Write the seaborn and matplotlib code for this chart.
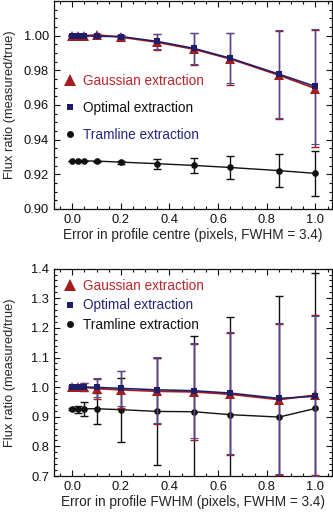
import numpy as np
import pandas as pd
import matplotlib
matplotlib.use("Agg")
import matplotlib.pyplot as plt
from matplotlib.lines import Line2D
from matplotlib.ticker import MultipleLocator, FixedLocator, FormatStrFormatter
import seaborn as sns

# ---------------- data ----------------
offset = [0.0, 0.025, 0.05, 0.1, 0.2, 0.35, 0.5, 0.65, 0.85, 1.0]

# top panel: error in profile centre
centre_gauss = [1.000, 1.000, 1.000, 1.0004, 0.9992, 0.9962, 0.9922, 0.9866, 0.9772, 0.9695]
centre_gauss_err = [0.0002, 0.0002, 0.0002, 0.0005, 0.001, 0.0045, 0.0092, 0.0148, 0.0255, 0.034]
centre_opt = [1.000, 1.000, 1.000, 0.9996, 0.9995, 0.9967, 0.9927, 0.9870, 0.9778, 0.9707]
centre_opt_err = [0.0002, 0.0002, 0.0002, 0.0005, 0.001, 0.0043, 0.0088, 0.0143, 0.0254, 0.033]
centre_tram = [0.9277, 0.9277, 0.9277, 0.9276, 0.9270, 0.9261, 0.9251, 0.9239, 0.9221, 0.9205]
centre_tram_err = [0.0002, 0.0002, 0.0002, 0.0003, 0.0008, 0.0029, 0.0045, 0.0067, 0.0095, 0.0128]

# bottom panel: error in profile FWHM
fwhm_gauss = [1.000, 1.000, 1.000, 0.995, 0.991, 0.986, 0.984, 0.976, 0.958, 0.973]
fwhm_gauss_err = [0.003, 0.006, 0.014, 0.034, 0.062, 0.112, 0.162, 0.206, 0.256, 0.27]
fwhm_opt = [1.000, 1.000, 1.000, 0.9995, 0.996, 0.991, 0.988, 0.980, 0.962, 0.969]
fwhm_opt_err = [0.003, 0.006, 0.013, 0.033, 0.060, 0.112, 0.160, 0.206, 0.255, 0.27]
fwhm_tram = [0.927, 0.926, 0.927, 0.927, 0.924, 0.918, 0.917, 0.907, 0.899, 0.928]
fwhm_tram_err = [0.004, 0.012, 0.024, 0.053, 0.108, 0.182, 0.254, 0.330, 0.407, 0.458]

methods = ["Gaussian extraction", "Optimal extraction", "Tramline extraction"]
xlabels = ["Error in profile centre (pixels, FWHM = 3.4)",
           "Error in profile FWHM (pixels, FWHM = 3.4)"]
ylabel = "Flux ratio (measured/true)"
top_yticks = [0.90, 0.92, 0.94, 0.96, 0.98, 1.00]
bottom_yticks = [0.7, 0.8, 0.9, 1.0, 1.1, 1.2, 1.3, 1.4]

# ---------------- style ----------------
sns.set_style("ticks")
plt.rcParams["font.family"] = ["Liberation Sans", "DejaVu Sans"]
plt.rcParams["xtick.direction"] = "in"
plt.rcParams["ytick.direction"] = "in"

RED = "#a31c20"
RED_TXT = "#b8262b"
NAVY = "#1e1e68"
NAVY_BAR = "#4a4a9c"
BLACK = "#111111"
FS = 9.8
TFS = 9.3

fig = plt.figure(figsize=(3.33, 5.12), dpi=100)
ax1 = fig.add_axes([0.162, 0.592, 0.835, 0.406])
ax2 = fig.add_axes([0.162, 0.0703, 0.835, 0.405])


def make_df(g, o, t):
    return pd.DataFrame({
        "offset": offset * 3,
        "ratio": list(g) + list(o) + list(t),
        "method": [methods[0]] * len(offset) + [methods[1]] * len(offset) + [methods[2]] * len(offset),
    })


def draw(ax, g, ge, o, oe, t, te, ms_tri):
    df = make_df(g, o, t)
    sub = lambda m: df[df["method"] == m]
    # tramline
    ax.errorbar(offset, t, yerr=te, fmt="none", ecolor=BLACK, elinewidth=1.0,
                capsize=3, capthick=1.0, zorder=2)
    sns.lineplot(data=sub(methods[2]), x="offset", y="ratio", ax=ax, color=BLACK,
                 marker="o", markersize=4.8, markeredgewidth=0, linewidth=1.0,
                 legend=False, zorder=3)
    # gaussian
    ax.errorbar(offset, g, yerr=ge, fmt="none", ecolor=RED, elinewidth=1.0,
                capsize=3, capthick=1.0, zorder=4)
    # optimal error bars
    ax.errorbar(offset, o, yerr=oe, fmt="none", ecolor=NAVY_BAR, elinewidth=1.0,
                capsize=3, capthick=0.8, zorder=5)
    sns.lineplot(data=sub(methods[0]), x="offset", y="ratio", ax=ax, color=RED,
                 marker="^", markersize=ms_tri, markeredgewidth=0, linewidth=1.3,
                 legend=False, zorder=6)
    sns.lineplot(data=sub(methods[1]), x="offset", y="ratio", ax=ax, color=NAVY,
                 marker="s", markersize=4.2, markeredgewidth=0, linewidth=1.1,
                 legend=False, zorder=7)


draw(ax1, centre_gauss, centre_gauss_err, centre_opt, centre_opt_err,
     centre_tram, centre_tram_err, 7.0)
draw(ax2, fwhm_gauss, fwhm_gauss_err, fwhm_opt, fwhm_opt_err,
     fwhm_tram, fwhm_tram_err, 7.8)

ax1.set_ylim(0.90, 1.02)
ax1.yaxis.set_major_locator(FixedLocator(top_yticks))
ax1.yaxis.set_minor_locator(MultipleLocator(0.005))
ax1.yaxis.set_major_formatter(FormatStrFormatter("%.2f"))
ax2.set_ylim(0.70, 1.40)
ax2.yaxis.set_major_locator(FixedLocator(bottom_yticks))
ax2.yaxis.set_minor_locator(MultipleLocator(0.02))
ax2.yaxis.set_major_formatter(FormatStrFormatter("%.1f"))

for ax, xl in ((ax1, xlabels[0]), (ax2, xlabels[1])):
    ax.set_xlim(-0.075, 1.068)
    ax.xaxis.set_major_locator(MultipleLocator(0.2))
    ax.xaxis.set_minor_locator(MultipleLocator(0.05))
    ax.xaxis.set_major_formatter(FormatStrFormatter("%.1f"))
    ax.tick_params(which="both", top=True, right=True, direction="in",
                   width=0.8, labelsize=TFS, colors=BLACK)
    ax.tick_params(which="major", length=4, pad=3.5)
    ax.tick_params(which="minor", length=2)
    for s in ax.spines.values():
        s.set_linewidth(0.9)
        s.set_color(BLACK)
    ax.set_xlabel(xl, fontsize=FS, labelpad=1.5)
    ax.set_ylabel(ylabel, fontsize=9.3)
    ax.yaxis.set_label_coords(-0.135, 0.5)

handles = [
    Line2D([], [], linestyle="none", marker="^", markersize=9, color=RED, markeredgewidth=0),
    Line2D([], [], linestyle="none", marker="s", markersize=4.4, color=NAVY, markeredgewidth=0),
    Line2D([], [], linestyle="none", marker="o", markersize=5, color=BLACK, markeredgewidth=0),
]

ax1.legend(handles, methods, loc="upper left", bbox_to_anchor=(0.0, 0.695),
           frameon=False, fontsize=FS, handlelength=1.0, handletextpad=0.45,
           labelspacing=0.95, borderaxespad=0.3,
           labelcolor=[RED_TXT, BLACK, "#26267a"])
ax2.legend(handles, methods, loc="upper left", bbox_to_anchor=(0.0, 0.995),
           frameon=False, fontsize=FS, handlelength=1.0, handletextpad=0.45,
           labelspacing=0.38, borderaxespad=0.3,
           labelcolor=[RED_TXT, "#26267a", BLACK])

fig.savefig("out.png", dpi=100)
